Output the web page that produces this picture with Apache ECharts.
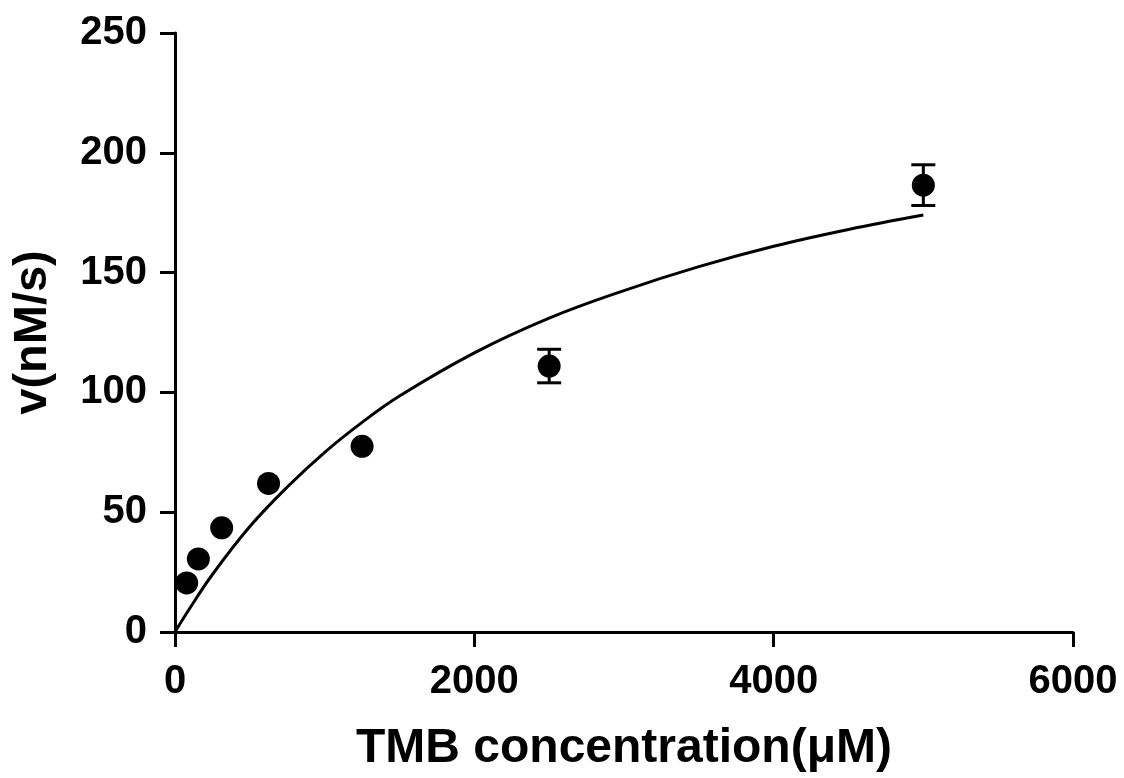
<!DOCTYPE html>
<html>
<head>
<meta charset="utf-8">
<script src="https://cdn.jsdelivr.net/npm/echarts@6/dist/echarts.min.js"></script>
<style>
    html, body { margin: 0; padding: 0; background: #fff; }
    #chart { width: 1124px; height: 778px; }
</style>
</head>
<body>
<div id="chart"></div>
<script>
// measured points (TMB concentration, rate) with error (0 = bar hidden by marker)
var pointX = [78, 156, 312, 625, 1250, 2500, 5000]
var pointY = [20.5, 30.5, 43.5, 62, 77.5, 111, 186.5]
var pointErr = [0, 0, 0, 0, 0, 7, 8.5]

// fitted curve
var curveX = [0, 100, 250, 500, 750, 1000, 1250, 1500, 2000, 2500, 3000, 3500, 4000, 4500, 5000]
var curveY = [0, 10, 24, 44, 60.5, 75, 87.5, 98.5, 116.5, 131, 142.5, 152.5, 161, 168, 174]

var xTicks = [0, 2000, 4000, 6000]
var yTicks = [0, 50, 100, 150, 200, 250]

var fontFamily = 'Arial, "Liberation Sans", sans-serif'

function drawChart() {
    var chartDom = document.getElementById('chart')
    var myChart = echarts.init(chartDom)
    var option

    var points = []
    var errors = []
    $each(pointX, function (i, x) {
        points.push([x, pointY[i]])
        errors.push([x, pointY[i] - pointErr[i], pointY[i] + pointErr[i]])
    })
    var curve = []
    $each(curveX, function (i, x) {
        curve.push([x, curveY[i]])
    })

    option = {
        animation: false,
        grid: {
            left: 175,
            right: 51,
            top: 33,
            bottom: 145,
        },
        xAxis: {
            type: 'value',
            min: xTicks[0],
            max: xTicks[xTicks.length - 1],
            interval: 2000,
            name: 'TMB concentration(μM)',
            nameLocation: 'middle',
            nameGap: 93,
            nameTextStyle: { fontFamily: fontFamily, fontWeight: 'bold', fontSize: 48, color: '#000' },
            axisLine: { onZero: false, lineStyle: { color: '#000', width: 3 } },
            axisTick: { length: 15, lineStyle: { color: '#000', width: 3 } },
            axisLabel: {
                margin: 30, fontFamily: fontFamily, fontWeight: 'bold', fontSize: 40, color: '#000',
                formatter: function (v) { return String(v) },
            },
            splitLine: { show: false },
        },
        yAxis: {
            type: 'value',
            min: yTicks[0],
            max: yTicks[yTicks.length - 1],
            interval: 50,
            name: 'v(nM/s)',
            nameLocation: 'middle',
            nameGap: 118,
            nameTextStyle: { fontFamily: fontFamily, fontWeight: 'bold', fontSize: 47, color: '#000' },
            axisLine: { show: true, onZero: false, lineStyle: { color: '#000', width: 3 } },
            axisTick: { show: true, length: 15, lineStyle: { color: '#000', width: 3 } },
            axisLabel: { margin: 28, fontFamily: fontFamily, fontWeight: 'bold', fontSize: 40, color: '#000' },
            splitLine: { show: false },
        },
        series: [
            {
                type: 'line',
                data: curve,
                smooth: 0.4,
                symbol: 'none',
                lineStyle: { color: '#000', width: 3 },
                z: 2,
            },
            {
                type: 'custom',
                data: errors,
                z: 3,
                renderItem: function (params, api) {
                    if (api.value(2) - api.value(1) <= 0) return null
                    var lo = api.coord([api.value(0), api.value(1)])
                    var hi = api.coord([api.value(0), api.value(2)])
                    var cap = 12
                    var style = { stroke: '#000', lineWidth: 3 }
                    return {
                        type: 'group',
                        children: [
                            { type: 'line', shape: { x1: lo[0], y1: lo[1], x2: hi[0], y2: hi[1] }, style: style },
                            { type: 'line', shape: { x1: lo[0] - cap, y1: lo[1], x2: lo[0] + cap, y2: lo[1] }, style: style },
                            { type: 'line', shape: { x1: hi[0] - cap, y1: hi[1], x2: hi[0] + cap, y2: hi[1] }, style: style },
                        ],
                    }
                },
            },
            {
                type: 'scatter',
                data: points,
                symbol: 'circle',
                symbolSize: 23,
                itemStyle: { color: '#000', opacity: 1 },
                z: 4,
            },
        ],
    }

    option && myChart.setOption(option)
}

function $each(arr, fn) {
    for (var i = 0; i < arr.length; i++) fn(i, arr[i])
}

drawChart()
</script>
</body>
</html>
